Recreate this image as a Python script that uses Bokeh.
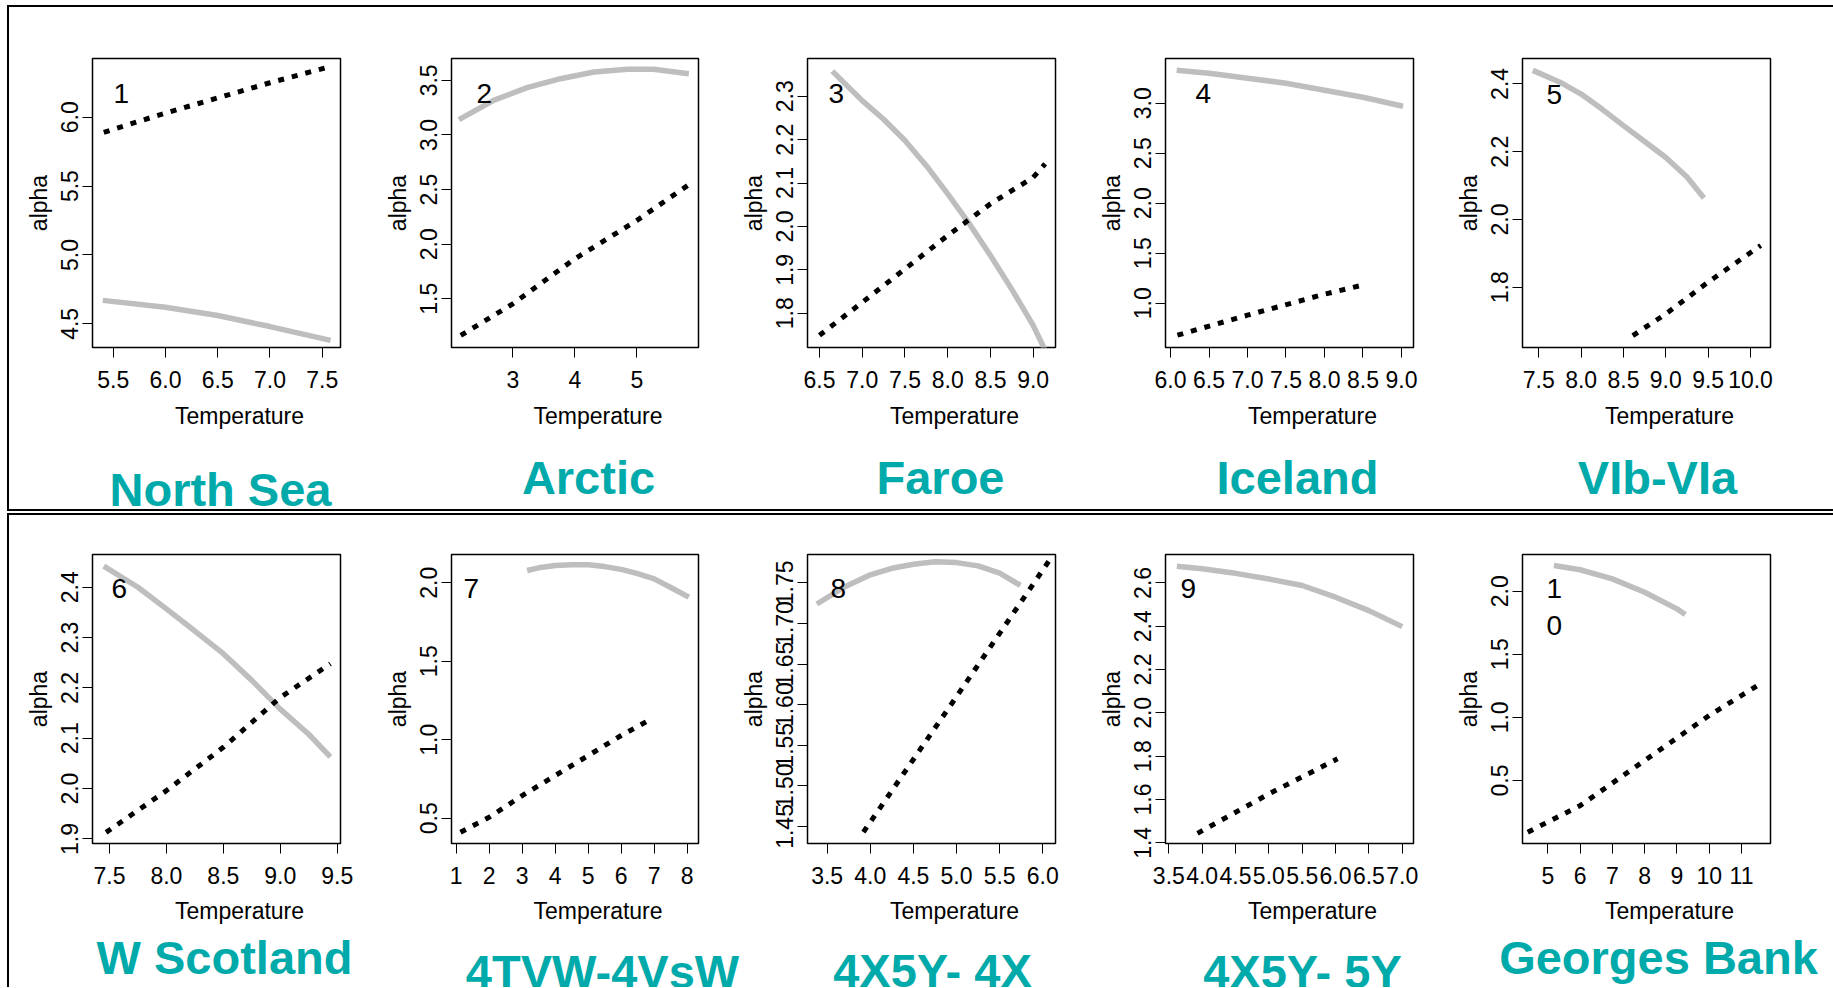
from bokeh.plotting import figure
from bokeh.layouts import row, column
from bokeh.models import FixedTicker, Label, Range1d, PrintfTickFormatter
from bokeh.embed import file_html
from bokeh.resources import INLINE

# ---------------- data ----------------
titles = ["North Sea", "Arctic", "Faroe", "Iceland", "VIb-VIa",
          "W Scotland", "4TVW-4VsW", "4X5Y- 4X", "4X5Y- 5Y", "Georges Bank"]
panel_numbers = ["1", "2", "3", "4", "5", "6", "7", "8", "9", "10"]
x_label = "Temperature"
y_label = "alpha"

x_ticks = [
    [5.5, 6.0, 6.5, 7.0, 7.5],
    [3, 4, 5],
    [6.5, 7.0, 7.5, 8.0, 8.5, 9.0],
    [6.0, 6.5, 7.0, 7.5, 8.0, 8.5, 9.0],
    [7.5, 8.0, 8.5, 9.0, 9.5, 10.0],
    [7.5, 8.0, 8.5, 9.0, 9.5],
    [1, 2, 3, 4, 5, 6, 7, 8],
    [3.5, 4.0, 4.5, 5.0, 5.5, 6.0],
    [3.5, 4.0, 4.5, 5.0, 5.5, 6.0, 6.5, 7.0],
    [5, 6, 7, 8, 9, 10, 11],
]
x_tick_format = ["%.1f", "%d", "%.1f", "%.1f", "%.1f", "%.1f", "%d", "%.1f", "%.1f", "%d"]
y_ticks = [
    [4.5, 5.0, 5.5, 6.0],
    [1.5, 2.0, 2.5, 3.0, 3.5],
    [1.8, 1.9, 2.0, 2.1, 2.2, 2.3],
    [1.0, 1.5, 2.0, 2.5, 3.0],
    [1.8, 2.0, 2.2, 2.4],
    [1.9, 2.0, 2.1, 2.2, 2.3, 2.4],
    [0.5, 1.0, 1.5, 2.0],
    [1.45, 1.50, 1.55, 1.60, 1.65, 1.70, 1.75],
    [1.4, 1.6, 1.8, 2.0, 2.2, 2.4, 2.6],
    [0.5, 1.0, 1.5, 2.0],
]
y_tick_format = ["%.1f", "%.1f", "%.1f", "%.1f", "%.1f", "%.1f", "%.1f", "%.2f", "%.1f", "%.1f"]

x_limits = [(5.302, 7.675), (2.011, 5.995), (6.360, 9.261), (5.935, 9.156), (7.308, 10.236),
            (7.351, 9.529), (0.858, 8.342), (3.272, 6.147), (3.450, 7.169), (4.217, 11.898)]
y_limits = [(4.328, 6.426), (1.054, 3.700), (1.721, 2.387), (0.557, 3.447), (1.622, 2.475),
            (1.891, 2.465), (0.339, 2.180), (1.429, 1.785), (1.397, 2.731), (0.000, 2.291)]

gray_x = [
    [5.40, 6.0, 6.5, 7.0, 7.58],
    [2.13, 2.69, 3.23, 3.77, 4.31, 4.85, 5.27, 5.84],
    [6.65, 7.0, 7.25, 7.5, 7.75, 8.0, 8.25, 8.5, 8.75, 9.0, 9.15],
    [6.08, 6.5, 7.0, 7.5, 8.0, 8.5, 9.02],
    [7.43, 7.75, 8.0, 8.25, 8.5, 8.75, 9.0, 9.25, 9.45],
    [7.45, 7.75, 8.0, 8.25, 8.5, 8.75, 9.0, 9.25, 9.44],
    [3.15, 3.5, 4.0, 4.5, 5.0, 5.5, 6.0, 6.5, 7.0, 7.5, 8.05],
    [3.38, 3.7, 4.0, 4.25, 4.5, 4.75, 5.0, 5.25, 5.5, 5.74],
    [3.62, 4.0, 4.5, 5.0, 5.5, 6.0, 6.5, 7.0],
    [5.19, 6.0, 7.0, 8.0, 9.0, 9.26],
]
gray_y = [
    [4.67, 4.62, 4.56, 4.48, 4.38],
    [3.14, 3.317, 3.433, 3.515, 3.576, 3.601, 3.601, 3.561],
    [2.358, 2.29, 2.247, 2.198, 2.14, 2.075, 2.007, 1.933, 1.855, 1.772, 1.71],
    [3.33, 3.30, 3.25, 3.20, 3.13, 3.06, 2.97],
    [2.44, 2.405, 2.37, 2.325, 2.277, 2.23, 2.183, 2.125, 2.063],
    [2.442, 2.40, 2.357, 2.313, 2.268, 2.215, 2.158, 2.108, 2.063],
    [2.078, 2.095, 2.11, 2.115, 2.115, 2.103, 2.085, 2.058, 2.025, 1.97, 1.908],
    [1.724, 1.745, 1.76, 1.768, 1.773, 1.776, 1.775, 1.771, 1.762, 1.747],
    [2.677, 2.665, 2.644, 2.618, 2.588, 2.534, 2.472, 2.398],
    [2.204, 2.17, 2.098, 1.992, 1.86, 1.815],
]
dot_x = [
    [5.41, 6.0, 6.5, 7.0, 7.54],
    [2.16, 3.0, 4.0, 5.0, 5.86],
    [6.5, 7.0, 7.5, 8.0, 8.5, 9.0, 9.14],
    [6.09, 7.0, 8.0, 8.49],
    [8.61, 9.0, 9.5, 10.12],
    [7.47, 8.0, 8.5, 9.0, 9.44],
    [1.13, 2.0, 3.0, 4.0, 5.0, 6.0, 6.89],
    [3.92, 5.0, 6.09],
    [3.93, 5.0, 6.03],
    [4.38, 6.0, 8.0, 10.0, 11.48],
]
dot_y = [
    [5.89, 6.03, 6.14, 6.25, 6.36],
    [1.164, 1.454, 1.866, 2.217, 2.553],
    [1.749, 1.825, 1.902, 1.979, 2.052, 2.113, 2.144],
    [0.68, 0.88, 1.09, 1.18],
    [1.657, 1.721, 1.815, 1.923],
    [1.913, 1.996, 2.082, 2.181, 2.248],
    [0.411, 0.506, 0.644, 0.772, 0.899, 1.027, 1.13],
    [1.443, 1.61, 1.78],
    [1.444, 1.626, 1.788],
    [0.09, 0.30, 0.658, 1.015, 1.25],
]

# ---------------- layout / style ----------------
FONT = "Liberation Sans"
TEAL = "#00AAAA"
GRAY = "#BEBEBE"

CANVAS_X0 = 9                                  # page x where the boxes' content starts
canvas_left = [9, 367, 724, 1082, 1439]
fig_w = [358, 357, 358, 357, 394]
frame_left = [92, 451, 807, 1165, 1522]
frame_w = [248, 247, 248, 248, 248]
row_canvas_top = [7, 515]
row_frame_top = [58, 554]
row_total_h = [502, 472]
FRAME_H = 289
BELOW = 56                                     # room under the frame for tick labels

# page positions (centre x, baseline y) of the texts under each panel
title_pos = [(220, 505), (588, 493), (940, 493), (1297, 493), (1657, 493),
             (224, 973), (602, 987), (932, 986), (1302, 987), (1658, 973)]
temp_dx = 23
temp_base = [423, 918]
# panel number: left x and middle y on the page
number_pos = [(113, 93), (476, 93), (828, 93), (1195, 93), (1546, 93.5),
              (111, 587.5), (463, 587.5), (830, 587.5), (1180, 588), (1546, 588)]


def make_panel(i):
    r, c = divmod(i, 5)
    L, T, fw = frame_left[c], row_frame_top[r], frame_w[c]
    mbl = L - canvas_left[c]
    mbt = T - row_canvas_top[r]
    x0, x1 = x_limits[i]
    y0, y1 = y_limits[i]
    p = figure(width=fig_w[c], height=mbt + FRAME_H + BELOW,
               x_range=Range1d(x0, x1), y_range=Range1d(y0, y1),
               output_backend="svg", toolbar_location=None,
               min_border_left=mbl, min_border_top=mbt,
               min_border_right=fig_w[c] - mbl - fw,
               min_border_bottom=BELOW)
    p.grid.visible = False
    p.outline_line_color = "black"
    p.outline_line_width = 1.5
    p.background_fill_color = "white"
    p.border_fill_color = "white"

    for ax in (p.xaxis[0], p.yaxis[0]):
        ax.axis_line_color = None
        ax.major_tick_out = 10
        ax.major_tick_in = 0
        ax.major_tick_line_color = "black"
        ax.major_tick_line_width = 1
        ax.minor_tick_line_color = None
        ax.major_label_text_font = FONT
        ax.major_label_text_font_size = "23px"
        ax.major_label_text_color = "black"
    p.xaxis.ticker = FixedTicker(ticks=x_ticks[i])
    p.xaxis.formatter = PrintfTickFormatter(format=x_tick_format[i])
    p.xaxis.major_label_standoff = 13
    p.yaxis.ticker = FixedTicker(ticks=y_ticks[i])
    p.yaxis.formatter = PrintfTickFormatter(format=y_tick_format[i])
    p.yaxis.major_label_orientation = "parallel"
    p.yaxis.major_label_standoff = 4
    p.yaxis.axis_label = y_label
    p.yaxis.axis_label_text_font = FONT
    p.yaxis.axis_label_text_font_size = "23px"
    p.yaxis.axis_label_text_font_style = "normal"
    p.yaxis.axis_label_text_color = "black"
    p.yaxis.axis_label_standoff = 7

    p.line(gray_x[i], gray_y[i], line_color=GRAY, line_width=5.5)
    p.line(dot_x[i], dot_y[i], line_color="black", line_width=5,
           line_dash="6 8", line_cap="butt")

    def to_data(px, py):
        return (x0 + (px - L) / fw * (x1 - x0),
                y1 - (py - T) / FRAME_H * (y1 - y0))

    nx, ny = number_pos[i]
    for k, ch in enumerate(panel_numbers[i]):
        lx, ly = to_data(nx, ny + 37 * k)
        p.add_layout(Label(x=lx, y=ly, text=ch, text_align="left",
                           text_baseline="middle", text_font=FONT,
                           text_font_size="28px", text_color="black"))
    return p


def make_text_strip(r):
    """Strip under a row of panels holding the x-axis titles and region names."""
    w = sum(fig_w)
    top = row_frame_top[r] + FRAME_H + BELOW
    h = row_canvas_top[r] + row_total_h[r] - top
    s = figure(width=w, height=h, x_range=Range1d(0, w), y_range=Range1d(0, h),
               output_backend="svg", toolbar_location=None,
               x_axis_location=None, y_axis_location=None,
               min_border_left=0, min_border_right=0,
               min_border_top=0, min_border_bottom=0)
    s.grid.visible = False
    s.outline_line_color = None
    s.background_fill_color = "white"
    s.border_fill_color = "white"

    def to_strip(px, py):
        return px - CANVAS_X0, h - (py - top)

    for c in range(5):
        i = r * 5 + c
        cx = frame_left[c] + frame_w[c] / 2 + temp_dx
        tx, ty = to_strip(cx, temp_base[r] - 0.3465 * 23)
        s.add_layout(Label(x=tx, y=ty, text=x_label, text_align="center",
                           text_baseline="middle", text_font=FONT,
                           text_font_size="23px", text_color="black"))
        px, py = title_pos[i]
        gx, gy = to_strip(px, py - 0.3465 * 47)
        s.add_layout(Label(x=gx, y=gy, text=titles[i], text_align="center",
                           text_baseline="middle", text_font=FONT,
                           text_font_size="47px", text_font_style="bold",
                           text_color=TEAL))
    return s


figs = [make_panel(i) for i in range(10)]
top_box = column(row(*figs[:5]), make_text_strip(0),
                 styles={"border-top": "2px solid black",
                         "border-left": "2px solid black",
                         "border-bottom": "2px solid black"})
bottom_box = column(row(*figs[5:]), make_text_strip(1),
                    styles={"border-top": "2px solid black",
                            "border-left": "2px solid black"})
layout = column(top_box, bottom_box, spacing=2, margin=(5, 0, 0, 7))

open("out.html", "w").write(file_html(layout, INLINE))
